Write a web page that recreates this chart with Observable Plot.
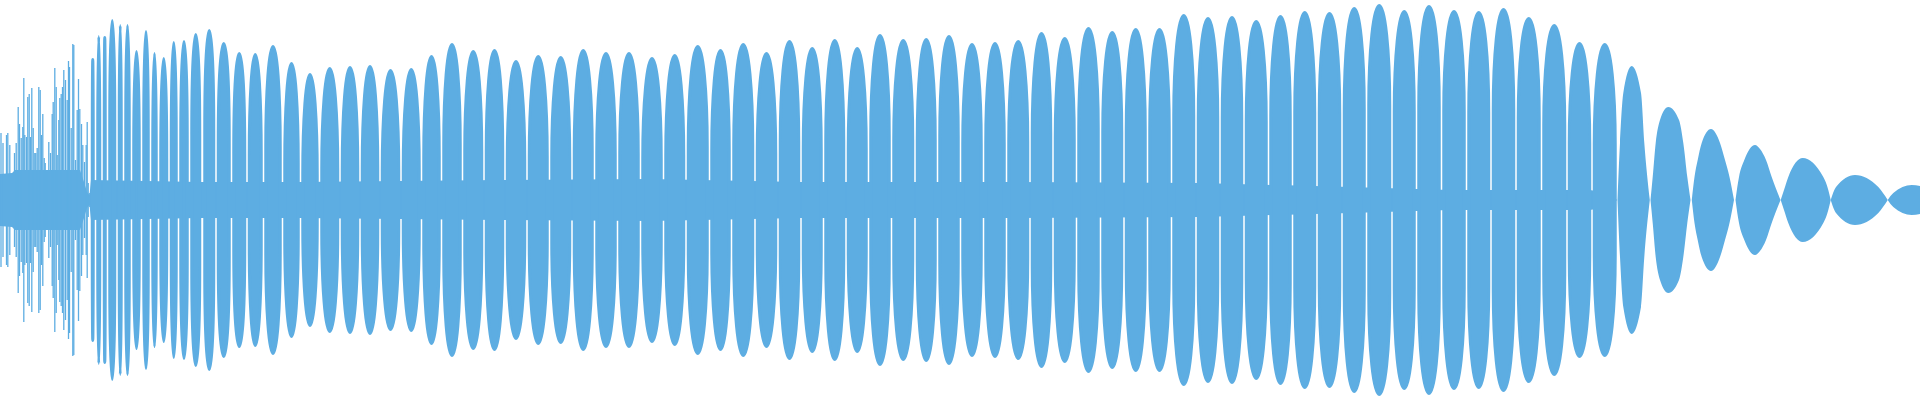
<!DOCTYPE html>
<html><head><meta charset="utf-8">
<script src="https://cdn.jsdelivr.net/npm/d3@7"></script>
<script src="https://cdn.jsdelivr.net/npm/@observablehq/plot@0.6"></script>
<style>html,body{margin:0;padding:0;background:#fff;overflow:hidden}</style>
</head><body><div id="chart"></div>
<script>
// Dense spikes at the start: position and half-amplitude
const spikeX = [0.5,2.5,6,7.3,9.3,12.3,14,15.7,17.7,19,20.7,22.3,23.3,24.3,26,27.3,28.7,30,31.3,32.7,34.3,35.3,36.7,38.3,39.7,41,42.3,43.7,44.7,46.7,48.3,50,51.7,52.7,54.3,55.7,56.7,58.3,59.3,60.7,62,63.3,65,66.7,68,69,70.7,72.3,73.3,75,76.7,78,79.3,81,82.3,84,85.7,86.7,87.7,89.3];
const spikeAmp = [67,57,65,67,55,23,47,57,93,76,62,73,122,65,63,103,106,63,112,72,47,47,52,113,110,65,86,42,37,28,58,47,86,98,132,113,45,80,102,106,113,130,120,100,139,133,72,156,155,40,90,121,91,76,55,38,55,78,17,7];

// Central floor envelope
const bandX = [0,12,15,80,84,87,89.5,91,200,300,500,650,800,1000,1200,1350,1450,1590,1612,1617];
const bandAmp = [26,27,30,30,18,8,5,20,18,18,20,21,18,18,17,13,10,10,6,0];

// Main lobes: start, end, half-amplitude
const lobeStart = [90.5,96,102.5,108,117.5,124,132,142,151,159,169.5,179,190,203,216.5,232,247.5,264,283,301,320,340.5,360.5,380.5,401.5,422,442,463,484.5,505.5,527.5,550,572.5,595,618,641,664,686.5,710,732,755.5,778.5,801.5,824,846.5,869,892,915.5,938,961,984,1007,1030.5,1053.5,1077,1101,1124.5,1148,1172,1196.5,1220.5,1244.5,1269,1293,1317.5,1342.5,1367,1392.5,1417,1442,1467,1491.5,1516.5,1542,1567.5,1592.5];
const lobeEnd = [95,101.5,107,116.5,123,131,141,150,158,168.5,178,189,201.5,215.5,231,246.5,263,282,300,319,339.5,359.5,379.5,400.5,421,441,462,483.5,504.5,526.5,549,571.5,594,617,640,663,685.5,709,731,754.5,777.5,800.5,823,845.5,868,891,914.5,937,960,983,1006,1029.5,1052.5,1076,1100,1123.5,1147,1171,1195.5,1219.5,1243.5,1268,1292,1316.5,1341.5,1366,1391.5,1416,1441,1466,1490.5,1515.5,1541,1566.5,1591.5,1617];
const lobeAmp = [142,165,164,181,176,176,150,170,148,143,159,160,167,171,158,148,147,155,138,127,133,134,135,131,132,145,157,150,151,140,145,144,151,148,148,143,146,155,151,157,148,160,153,161,153,166,161,162,165,157,158,160,168,163,173,169,172,172,186,183,184,180,185,189,188,193,196,190,195,190,189,192,183,176,158,157];

// Decaying tail: points of each lobe (lobe index, position, half-amplitude)
const tailLobe = [0,0,0,0,0,0,0, 1,1,1,1,1,1,1,1,1, 2,2,2,2,2,2,2,2,2, 3,3,3,3,3,3,3,3, 4,4,4,4,4,4,4, 5,5,5,5,5, 6,6,6,6];
const tailX = [1617.5,1620,1623.3,1631.7,1641,1644.3,1649.8,
  1650.5,1652.7,1655.7,1660,1668.3,1679,1683.3,1687.3,1690.5,
  1691.8,1694.5,1697.7,1701.7,1711,1720,1725,1729.5,1734,
  1735.5,1739,1744.3,1755,1760,1766,1771.7,1780.5,
  1780.7,1784,1788.3,1802.7,1823.3,1828.3,1830.7,
  1830.7,1836,1855,1878.3,1887.7,
  1887.7,1893.3,1911.7,1920];
const tailAmp = [0,57,107,134,107,57,0,
  0,23,57,80,93,80,57,23,0,
  0,23,40,57,71,57,40,23,0,
  0,23,40,55,51,40,23,0,
  0,10,23,42,23,10,0,
  0,13,25,13,0,
  0,7,15,14];

const COLOR = "#5dade2";

const spikes = spikeX.map((x, i) => ({x, v: spikeAmp[i]}));
const band = bandX.map((x, i) => ({x, v: bandAmp[i]}));
const lobes = lobeStart.map((s, i) => ({x1: s, x2: lobeEnd[i], v: lobeAmp[i]}));
const tail = tailX.map((x, i) => ({id: tailLobe[i], x, v: tailAmp[i]}));

const chart = Plot.plot({
  width: 1920, height: 400,
  margin: 0,
  x: {domain: [0, 1920], axis: null},
  y: {domain: [-200, 200], axis: null},
  marks: [
    Plot.areaY(band, {x: "x", y1: d => -d.v, y2: d => d.v, fill: COLOR}),
    Plot.ruleX(spikes, {x: "x", y1: d => -d.v, y2: d => d.v, stroke: COLOR, strokeWidth: 1.3}),
    Plot.rect(lobes, {x1: "x1", x2: "x2", y1: d => -d.v, y2: d => d.v, fill: COLOR, stroke: COLOR, strokeWidth: 3, strokeLinejoin: "round", insetLeft: 1.75, insetRight: 1.75, insetTop: 1.5, insetBottom: 1.5, rx: 20, ry: 100}),
    Plot.areaY(tail, {x: "x", y1: d => -d.v, y2: d => d.v, z: "id", curve: "monotone-x", fill: COLOR})
  ]
});
document.getElementById("chart").appendChild(chart);
</script>
</body></html>
